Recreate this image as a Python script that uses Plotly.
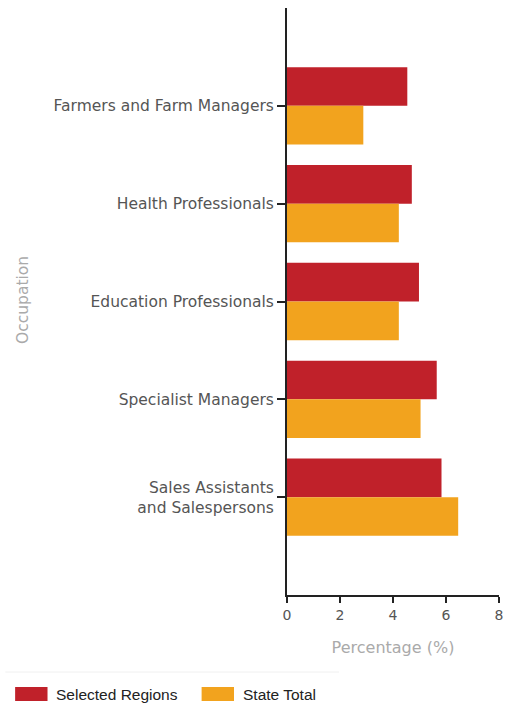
import plotly.graph_objects as go

occupations = [
    "Farmers and Farm Managers",
    "Health Professionals",
    "Education Professionals",
    "Specialist Managers",
    "Sales Assistants<br>and Salespersons",
]
selected_regions = [4.54, 4.71, 4.98, 5.65, 5.83]
state_total = [2.88, 4.22, 4.22, 5.04, 6.46]
x_ticks = [0, 2, 4, 6, 8]

RED = "#C0212A"
ORANGE = "#F2A31E"

# plot area in pixels, used to place the footer legend in paper units
L, R, T, B = 287, 503, 8, 595
W, H = R - L, B - T


def px_x(px):
    return (px - L) / W


def px_y(py):
    return (B - py) / H


fig = go.Figure()
fig.add_trace(go.Bar(y=occupations, x=selected_regions, orientation="h",
                     name="Selected Regions", marker=dict(color=RED, line=dict(width=0))))
fig.add_trace(go.Bar(y=occupations, x=state_total, orientation="h",
                     name="State Total", marker=dict(color=ORANGE, line=dict(width=0))))

fig.update_layout(
    width=509, height=706,
    margin=dict(l=L, r=509 - R, t=T, b=706 - B),
    paper_bgcolor="white", plot_bgcolor="white",
    barmode="group", bargap=0.21, bargroupgap=0,
    showlegend=False,
    font=dict(family="DejaVu Sans", color="#555555"),
)
fig.update_xaxes(
    range=[0, 8], tickvals=x_ticks, ticktext=[str(v) for v in x_ticks],
    showgrid=False, zeroline=False,
    showline=True, linecolor="#222222", linewidth=2,
    ticks="outside", ticklen=6, tickwidth=2, tickcolor="#222222",
    tickfont=dict(size=14, color="#555555"),
    title=dict(text="Percentage (%)", font=dict(size=16, color="#AAAAAA"), standoff=20),
)
fig.update_yaxes(
    type="category", categoryorder="array", categoryarray=occupations,
    range=[5, -1],
    showgrid=False, zeroline=False,
    showline=True, linecolor="#222222", linewidth=2,
    ticks="outside", ticklen=8, tickwidth=2, tickcolor="#222222",
    tickfont=dict(size=15.5, color="#555555"),
)

# y-axis title, pinned to the left edge
fig.add_annotation(text="Occupation", xref="paper", yref="paper",
                   x=px_x(18), y=px_y(300), xanchor="center", yanchor="middle",
                   textangle=-90, showarrow=False,
                   font=dict(family="DejaVu Sans", size=15.5, color="#AAAAAA"))

# footer legend
fig.add_shape(type="line", xref="paper", yref="paper", x0=px_x(0), x1=px_x(340),
              y0=px_y(672), y1=px_y(672), line=dict(color="#F0F0F0", width=1))
legend_items = [("Selected Regions", RED, 10), ("State Total", ORANGE, 200)]
for label, color, px in legend_items:
    fig.add_shape(type="rect", xref="paper", yref="paper",
                  x0=px_x(px), x1=px_x(px + 33), y0=px_y(701), y1=px_y(687),
                  fillcolor=color, line=dict(width=0))
    fig.add_annotation(text=label, xref="paper", yref="paper",
                       x=px_x(px + 40), y=px_y(694),
                       xanchor="left", yanchor="middle", showarrow=False,
                       font=dict(family="Liberation Sans", size=15.5, color="#222222"))

fig.write_html("out.html")
